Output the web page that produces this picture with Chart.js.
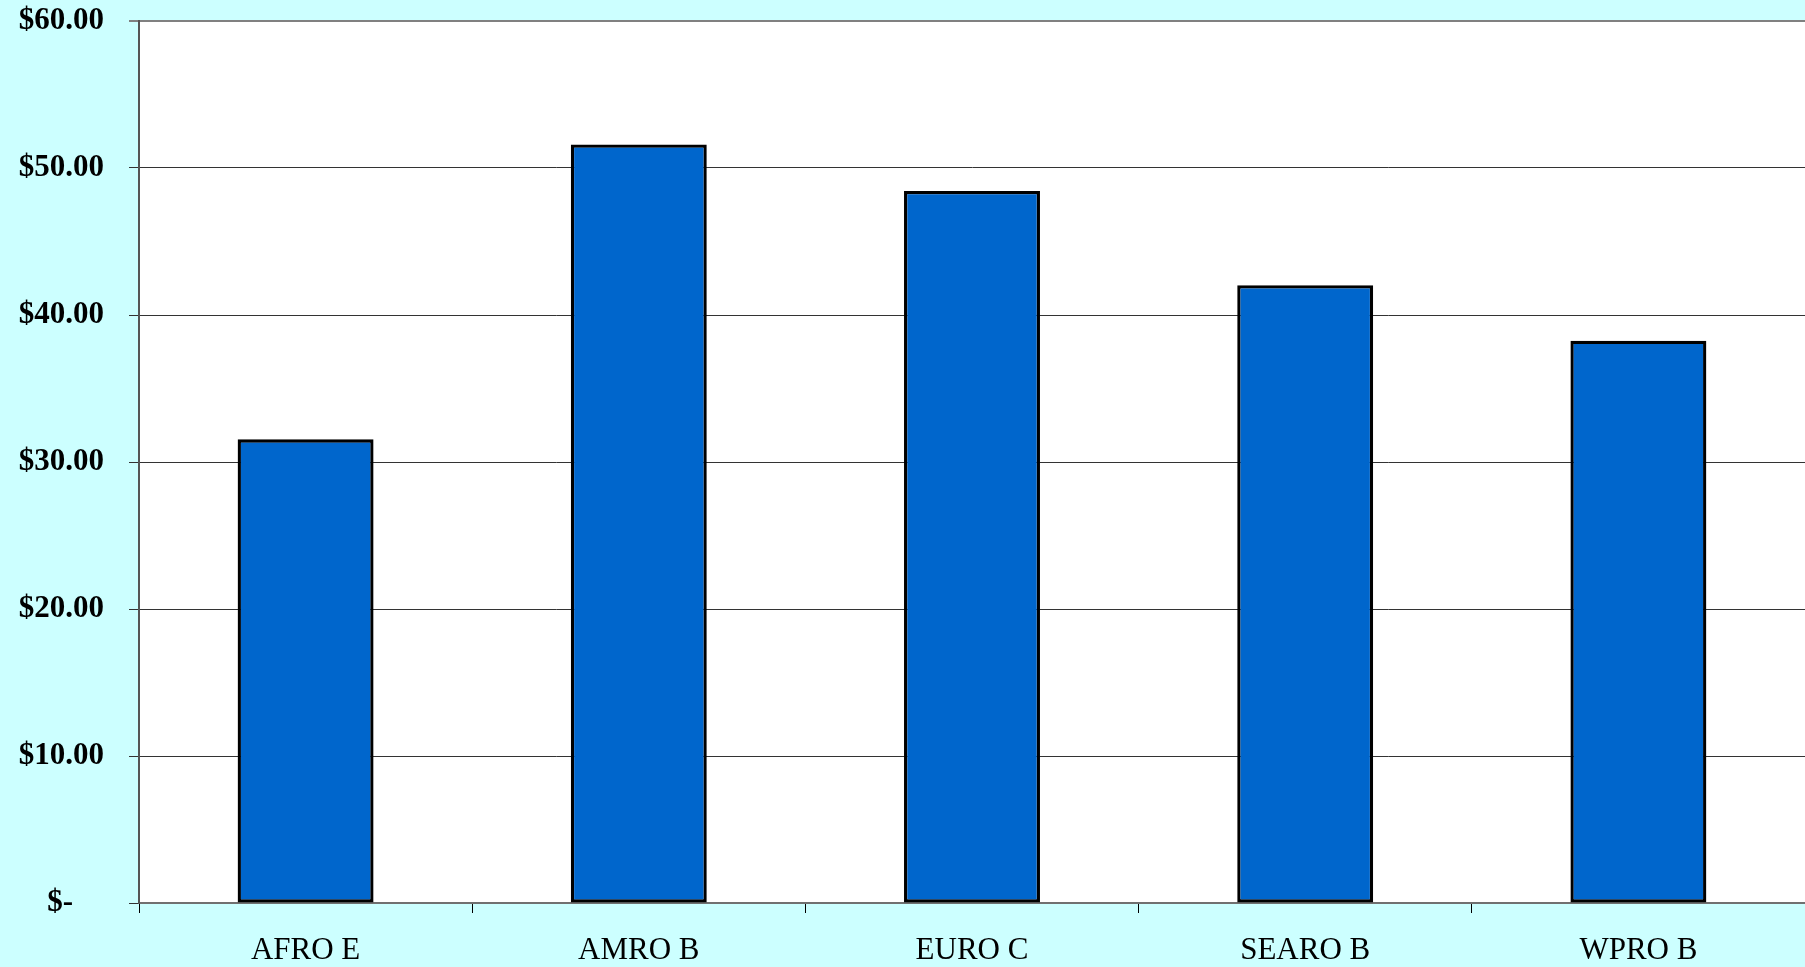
<!DOCTYPE html>
<html>
<head>
<meta charset="utf-8">
<script src="https://cdn.jsdelivr.net/npm/chart.js@4/dist/chart.umd.min.js"></script>
<style>
  html, body { margin: 0; padding: 0; background: #CCFFFF; }
  #wrap { width: 1805px; height: 967px; position: relative; }
</style>
</head>
<body>
<div id="wrap"><canvas id="c" width="1805" height="967"></canvas></div>
<script>
// Regional costs (US$)
const regions = ['AFRO E', 'AMRO B', 'EURO C', 'SEARO B', 'WPRO B'];
const costs = [31.54, 51.6, 48.44, 42.03, 38.25];
const yTicks = [0, 10, 20, 30, 40, 50, 60];

function money(v) {
  if (v === 0) return '$-\u00A0\u00A0\u00A0\u00A0';
  return '$' + v.toFixed(2);
}

// Paint the plot area white on top of the cyan page
const plotBackground = {
  id: 'plotBackground',
  beforeDraw(chart) {
    const { ctx, chartArea: a } = chart;
    ctx.save();
    ctx.fillStyle = '#FFFFFF';
    ctx.fillRect(a.left, a.top, a.right - a.left, a.bottom - a.top);
    ctx.restore();
  }
};

new Chart(document.getElementById('c'), {
  type: 'bar',
  data: {
    labels: regions,
    datasets: [{
      data: costs,
      backgroundColor: '#0066CC',
      borderColor: '#000000',
      borderWidth: 3.3,
      borderSkipped: false,
      barPercentage: 0.408,
      categoryPercentage: 1.0
    }]
  },
  options: {
    responsive: false,
    animation: false,
    layout: { padding: { top: 21, left: 0, right: 0, bottom: 0 } },
    plugins: {
      legend: { display: false },
      tooltip: { enabled: false }
    },
    scales: {
      x: {
        offset: true,
        grid: {
          offset: true,
          drawOnChartArea: false,
          drawTicks: true,
          tickLength: 10,
          color: '#000000',
          lineWidth: 1
        },
        border: { color: '#707070', width: 2 },
        ticks: {
          color: '#000000',
          padding: 19,
          font: { family: 'Liberation Serif', size: 31 }
        },
        afterFit(scale) {
          scale.height = 64;
          scale.paddingLeft = 0;
          scale.paddingRight = 0;
        }
      },
      y: {
        min: 0,
        max: 60,
        afterBuildTicks(scale) { scale.ticks = yTicks.map(v => ({ value: v })); },
        grid: {
          color: ctx => ctx.tick && ctx.tick.value === 60 ? '#808080' : '#333333',
          lineWidth: ctx => ctx.tick && ctx.tick.value === 60 ? 2 : 1,
          tickLength: 10,
          drawTicks: true
        },
        border: { color: '#555555', width: 2 },
        ticks: {
          color: '#000000',
          padding: 25,
          callback: v => money(v),
          font: { family: 'Liberation Serif', size: 31, weight: 'bold' }
        },
        afterFit(scale) {
          scale.width = 139;
          scale.paddingTop = 0;
          scale.paddingBottom = 0;
        }
      }
    }
  },
  plugins: [plotBackground]
});
</script>
</body>
</html>
